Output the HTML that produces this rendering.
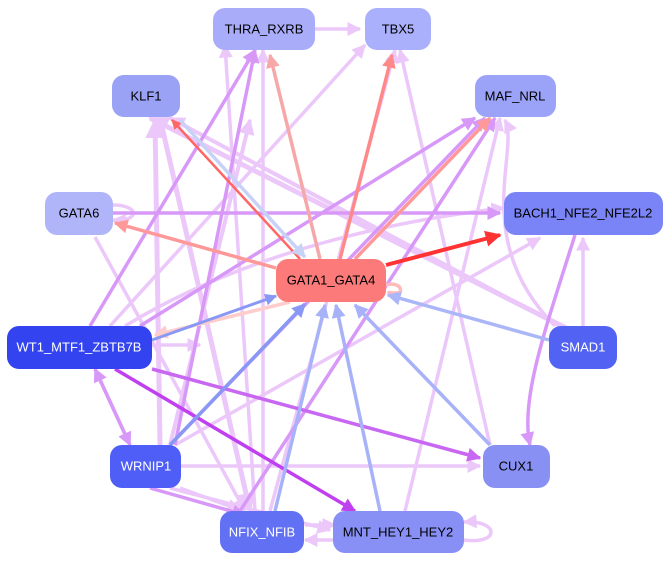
<!DOCTYPE html>
<html><head><meta charset="utf-8"><style>
body{margin:0;background:#fff;}
svg{display:block;font-family:"Liberation Sans",sans-serif;}
</style></head><body>
<svg width="671" height="563" viewBox="0 0 671 563" xmlns="http://www.w3.org/2000/svg">
<defs>
<marker id="a" viewBox="0 0 10 10" refX="9" refY="5" markerWidth="4" markerHeight="4" orient="auto" markerUnits="strokeWidth"><path d="M0,0L10,5L0,10z" fill="context-stroke"/></marker>
</defs>
<g fill="none" stroke-width="3.5" marker-end="url(#a)">
<!-- lavender background edges -->
<g stroke="#ecc8fa">
<path d="M315,29L360,29"/>
<path d="M570,330L150,118" stroke-width="5"/>
<path d="M560,326L170,118" stroke-width="4"/>
<path d="M583,326L583,238"/>
<path d="M555,326C470,240 520,150 505,120"/>
<path d="M110,326L365,45"/>
<path d="M125,326C250,250 400,220 504,208"/>
<path d="M175,445L540,238"/>
<path d="M181,466L480,466"/>
<path d="M170,488L330,530"/>
<path d="M160,445L155,120" stroke-width="5"/>
<path d="M170,445L250,120" stroke-width="4"/>
<path d="M255,511L225,45"/>
<path d="M263,511L263,50"/>
<path d="M270,511L395,50"/>
<path d="M405,511L500,118"/>
<path d="M95,237L245,511"/>
<path d="M160,118L250,511" stroke-width="5"/>
<path d="M490,445L400,50"/>
<path d="M150,345L200,345"/>
<path d="M180,488L240,510"/>
<path d="M305,525L335,525"/>
<path d="M335,540L305,540"/>
<path d="M464,540C500,545 500,520 464,522"/>
<path d="M113,205C140,205 140,222 113,220"/>
</g>
<g stroke="#d898f8">
<path d="M113,213L500,213"/>
<path d="M90,326L255,50"/>
<path d="M140,326L475,118"/>
<path d="M170,445L485,118"/>
<path d="M240,511L495,118"/>
<path d="M575,235C545,330 520,400 530,445"/>
<path d="M95,369L130,445"/>
<path d="M130,445L95,369"/>
<path d="M150,488L245,515"/>
<path d="M175,445L255,50"/>
</g>
<path d="M152,369L480,458" stroke="#c867f2"/>
<path d="M115,369L355,511" stroke="#c040f0"/>
<!-- GATA1 edges -->
<path d="M300,259L172,120" stroke="#f66" stroke-width="2.5"/>
<path d="M180,120L305,257" stroke="#c8d2f6"/>
<path d="M320,259L270,55" stroke="#f6a8a8"/>
<path d="M340,259L392,55" stroke="#f88"/>
<path d="M355,259L490,118" stroke="#f99"/>
<path d="M386,265L500,235" stroke="#f33" stroke-width="4"/>
<path d="M276,268L115,223" stroke="#f99"/>
<path d="M290,302L155,335" stroke="#fcc"/>
<path d="M386,285C405,280 405,300 388,292" stroke="#fbb"/>
<path d="M152,340L276,296" stroke="#8898f4" stroke-width="3"/>
<path d="M170,445L305,304" stroke="#8898f4"/>
<path d="M275,511L325,305" stroke="#a8b2f8"/>
<path d="M380,511L336,305" stroke="#a8b2f8"/>
<path d="M490,445L355,305" stroke="#a8b2f8"/>
<path d="M549,340L388,295" stroke="#aab6f8"/>
</g>
<g font-size="13" text-anchor="middle" dominant-baseline="central">
<rect x="213" y="8" width="102" height="42" rx="12" fill="#a9acf9"/><text x="264" y="29">THRA_RXRB</text>
<rect x="365" y="8" width="66" height="42" rx="12" fill="#aab0fb"/><text x="398" y="29">TBX5</text>
<rect x="112" y="75" width="68" height="42" rx="12" fill="#9aa2f6"/><text x="146" y="96">KLF1</text>
<rect x="475" y="75" width="81" height="42" rx="12" fill="#9ba3f8"/><text x="515" y="96">MAF_NRL</text>
<rect x="45" y="192" width="68" height="43" rx="12" fill="#b0b5fa"/><text x="79" y="213">GATA6</text>
<rect x="504" y="192" width="159" height="43" rx="12" fill="#7a84f6"/><text x="583" y="213">BACH1_NFE2_NFE2L2</text>
<rect x="276" y="259" width="110" height="43" rx="12" fill="#fd7a7a"/><text x="331" y="280">GATA1_GATA4</text>
<rect x="7" y="326" width="145" height="43" rx="12" fill="#3343f0"/><text x="79" y="347" fill="#fff">WT1_MTF1_ZBTB7B</text>
<rect x="549" y="326" width="68" height="43" rx="12" fill="#5262f2"/><text x="583" y="347" fill="#fff">SMAD1</text>
<rect x="110" y="445" width="71" height="43" rx="12" fill="#4f5ef6"/><text x="146" y="466" fill="#fff">WRNIP1</text>
<rect x="483" y="445" width="67" height="43" rx="12" fill="#8890f4"/><text x="516" y="466">CUX1</text>
<rect x="220" y="511" width="84" height="42" rx="12" fill="#6270f3"/><text x="262" y="532" fill="#fff">NFIX_NFIB</text>
<rect x="333" y="511" width="131" height="42" rx="12" fill="#8890f6"/><text x="398" y="532">MNT_HEY1_HEY2</text>
</g>
</svg>
</body></html>
